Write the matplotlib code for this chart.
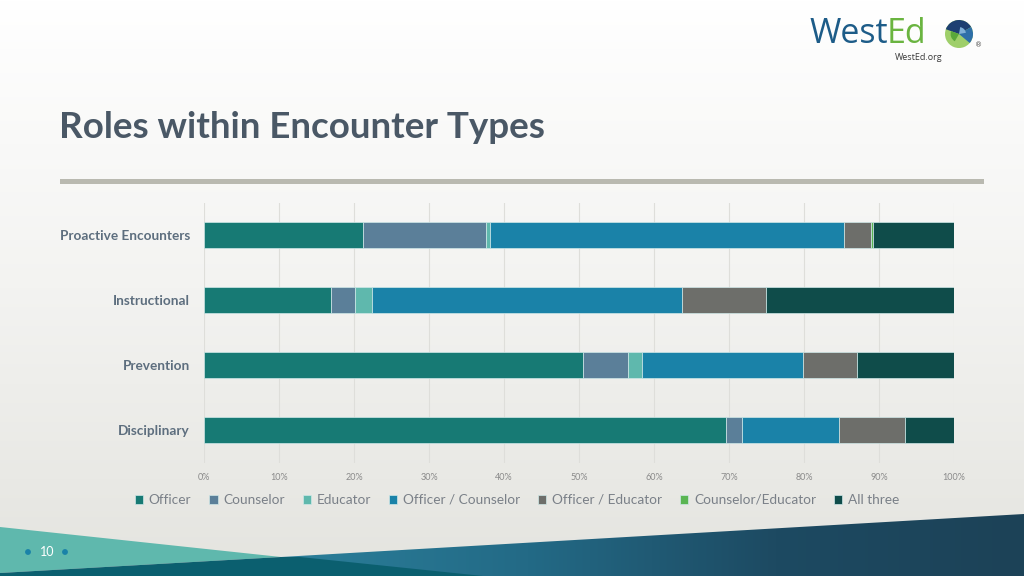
import numpy as np
import matplotlib
matplotlib.use("Agg")
import matplotlib.pyplot as plt
from matplotlib.patches import Polygon, Circle, Wedge
from matplotlib.colors import LinearSegmentedColormap

# ---- data ----
categories = ["Proactive Encounters", "Instructional", "Prevention", "Disciplinary"]
series_names = ["Officer", "Counselor", "Educator", "Officer / Counselor",
                "Officer / Educator", "Counselor/Educator", "All three"]
officer            = [21.2, 16.9, 50.5, 69.6]
counselor          = [16.4, 3.2, 6.0, 2.1]
educator           = [0.6, 2.3, 1.9, 0.0]
officer_counselor  = [47.1, 41.3, 21.5, 13.0]
officer_educator   = [3.6, 11.2, 7.1, 8.8]
counselor_educator = [0.3, 0.0, 0.0, 0.0]
all_three          = [10.8, 25.1, 13.0, 6.5]
tick_labels = ["0%", "10%", "20%", "30%", "40%", "50%", "60%", "70%", "80%", "90%", "100%"]

series_values = [officer, counselor, educator, officer_counselor,
                 officer_educator, counselor_educator, all_three]
colors = ["#177a74", "#5b7f99", "#5fb8ad", "#1a82a8", "#6d6e6a", "#5ab552", "#0f4c4a"]

W, H = 1024, 576
fig = plt.figure(figsize=(W / 100, H / 100), dpi=100)

# ---- background ----
bg = fig.add_axes([0, 0, 1, 1], zorder=0)
bg.set_xlim(0, W)
bg.set_ylim(H, 0)
bg.axis("off")
grad = np.linspace(0, 1, 256).reshape(-1, 1)
bg_cmap = LinearSegmentedColormap.from_list("bg", ["#ffffff", "#f3f3f1", "#e4e4df"])
bg.imshow(grad, extent=[0, W, H, 0], cmap=bg_cmap, aspect="auto", zorder=0)

# footer shapes
blue_poly = Polygon([(281, 557), (1024, 514), (1024, 576), (0, 576), (0, 573)],
                    closed=True, facecolor="none", edgecolor="none")
bg.add_patch(blue_poly)
hgrad = np.linspace(0, 1, 256).reshape(1, -1)
foot_cmap = LinearSegmentedColormap.from_list("ft", ["#2b7f9a", "#236a86", "#1d4a62", "#1c4257"])
im = bg.imshow(hgrad, extent=[280, 1024, 576, 510], cmap=foot_cmap, aspect="auto", zorder=1)
im.set_clip_path(blue_poly)
bg.add_patch(Polygon([(0, 527), (281, 557), (0, 573)], closed=True,
                     facecolor="#5fb8ad", edgecolor="none", zorder=2))
bg.add_patch(Polygon([(0, 573), (281, 557), (300, 557), (483, 576), (0, 576)], closed=True,
                     facecolor="#0b5f6f", edgecolor="none", zorder=2))
bg.text(47, 552, "10", color="#ffffff", fontsize=9, ha="center", va="center",
        family="Lato", zorder=3)
bg.add_patch(Circle((28, 552), 2.2, color="#1a82a8", zorder=3))
bg.add_patch(Circle((65, 552), 2.2, color="#1a82a8", zorder=3))

# title + rule
bg.text(59, 128, "Roles within Encounter Types", fontsize=26.5, fontweight="bold",
        color="#4a5866", family="Lato", ha="left", va="center")
bg.add_patch(Polygon([(60, 178.5), (984, 178.5), (984, 183.5), (60, 183.5)],
                     closed=True, facecolor="#b9b9b0", edgecolor="none"))

# logo
t_west = bg.text(809, 34, "West", fontsize=24.5, color="#1d5c88", family="Open Sans",
                 ha="left", va="center")
fig.canvas.draw()
bb = t_west.get_window_extent(renderer=fig.canvas.get_renderer())
x_end = bb.x1
bg.text(x_end - 1, 34, "Ed", fontsize=24.5, color="#6ab440", family="Open Sans",
        ha="left", va="center")
gx, gy, gr = 959, 34, 14
bg.add_patch(Wedge((gx, gy), gr, 0, 360, facecolor="#9fcf6a", edgecolor="none", zorder=2))
bg.add_patch(Wedge((gx, gy), gr, 200, 330, facecolor="#1d3f72", edgecolor="none", zorder=3))
bg.add_patch(Wedge((gx, gy), gr, 330, 40, facecolor="#2e6fa8", edgecolor="none", zorder=3))
bg.add_patch(Wedge((gx, gy), gr * 0.6, 120, 200, facecolor="#5aa83a", edgecolor="none", zorder=4))
bg.add_patch(Wedge((gx, gy), gr * 0.5, 280, 350, facecolor="#7fb0d8", edgecolor="none", zorder=4))
bg.text(975, 45, "®", fontsize=5, color="#444444", ha="left", va="center")
bg.text(919, 57, "WestEd.org", fontsize=6.5, color="#3a3a3a", family="Open Sans",
        ha="center", va="center")

# ---- chart ----
ax = fig.add_axes([204 / W, 1 - 462.5 / H, 750 / W, 260 / H], zorder=2)
ax.patch.set_alpha(0)
y = np.arange(len(categories))
left = np.zeros(len(categories))
for name, vals, c in zip(series_names, series_values, colors):
    ax.barh(y, vals, left=left, height=0.4, color=c, label=name,
            edgecolor="#cfe8e8", linewidth=0.5, zorder=3)
    left += np.array(vals)

ax.set_xlim(0, 100)
ax.set_ylim(len(categories) - 0.5, -0.5)
ax.set_xticks(np.arange(0, 101, 10))
ax.set_xticklabels(tick_labels)
ax.set_yticks(y)
ax.set_yticklabels(categories)
ax.grid(axis="x", color="#dededa", linewidth=0.8, zorder=0)
for s in ax.spines.values():
    s.set_visible(False)
ax.tick_params(axis="both", length=0)
ax.tick_params(axis="x", labelsize=6.5, labelcolor="#8a8a8a", pad=7.5)
ax.tick_params(axis="y", pad=10)
for t in ax.get_xticklabels():
    t.set_family("Lato")
for t in ax.get_yticklabels():
    t.set_family("Lato")
    t.set_fontsize(9.8)
    t.set_fontweight("bold")
    t.set_color("#5d6e7e")

leg = fig.legend(loc="center", bbox_to_anchor=(517 / W, 1 - 500 / H), ncol=7,
                 frameon=False, handlelength=0.6, handleheight=0.6, handletextpad=0.4,
                 columnspacing=1.35, prop={"family": "Lato", "size": 9.8})
for t in leg.get_texts():
    t.set_color("#7a8088")

fig.savefig("out.png", dpi=100)
